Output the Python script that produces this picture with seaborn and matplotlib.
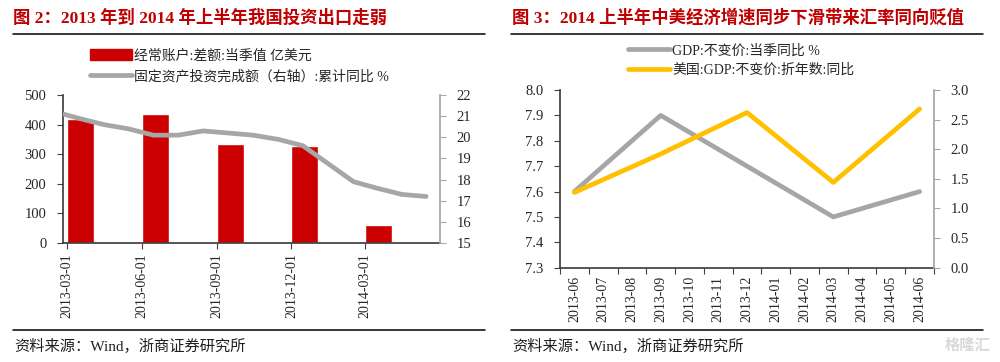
import numpy as np
import pandas as pd
import matplotlib
matplotlib.use("Agg")
import matplotlib.pyplot as plt
import matplotlib.dates as mdates
from matplotlib.patches import Patch
from matplotlib.lines import Line2D
import seaborn as sns

sns.set_theme(style="white")
FONTS = ["Liberation Serif", "Noto Sans CJK SC"]
plt.rcParams["font.family"] = FONTS
plt.rcParams["axes.unicode_minus"] = False

# ── data: chart 2 ─────────────────────────────────────────
bar_dates = ["2013-03-01", "2013-06-01", "2013-09-01", "2013-12-01", "2014-03-01"]
current_account = [418, 435, 333, 327, 61]
fai_dates = ["2013-02-15", "2013-03-15", "2013-04-15", "2013-05-15", "2013-06-15",
             "2013-07-15", "2013-08-15", "2013-09-15", "2013-10-15", "2013-11-15",
             "2013-12-15", "2014-02-15", "2014-03-15", "2014-04-15", "2014-05-15"]
fai_yoy = [21.2, 20.9, 20.6, 20.4, 20.1, 20.1, 20.3, 20.2, 20.1, 19.9,
           19.6, 17.9, 17.6, 17.3, 17.2]

# ── data: chart 3 ─────────────────────────────────────────
months = ["2013-06", "2013-07", "2013-08", "2013-09", "2013-10", "2013-11", "2013-12",
          "2014-01", "2014-02", "2014-03", "2014-04", "2014-05", "2014-06"]
cn_gdp = [7.6, np.nan, np.nan, 7.9, np.nan, np.nan, 7.7,
          np.nan, np.nan, 7.5, np.nan, np.nan, 7.6]
us_gdp = [1.27, np.nan, np.nan, 1.92, np.nan, np.nan, 2.62,
          np.nan, np.nan, 1.44, np.nan, np.nan, 2.68]

RED = "#CC0000"
GRAY = "#A6A6A6"
YELLOW = "#FFC000"
TITLE_RED = "#C00000"

W, H = 1000, 362
fig = plt.figure(figsize=(10, 3.62), dpi=100)


def px_axes(x0, y0, x1, y1):
    return fig.add_axes([x0 / W, 1 - y1 / H, (x1 - x0) / W, (y1 - y0) / H])


def style_axes(ax, ax2):
    for a in (ax, ax2):
        a.set_facecolor("none")
        a.spines["top"].set_visible(False)
    ax.spines["right"].set_visible(False)
    ax.spines["left"].set_color("#404040")
    ax.spines["bottom"].set_color("#404040")
    ax2.spines["left"].set_visible(False)
    ax2.spines["bottom"].set_visible(False)
    ax2.spines["right"].set_color(GRAY)
    ax.tick_params(axis="y", direction="out", length=4, width=0.8, color="#404040",
                   labelsize=10.5, pad=8, left=True)
    ax2.tick_params(axis="y", direction="out", length=4, width=0.8, color=GRAY,
                    labelsize=10.5, pad=8, right=True)


# ── chart 2 ───────────────────────────────────────────────
ax = px_axes(63, 95, 440, 243)
ax2 = ax.twinx()
bd = pd.to_datetime(bar_dates)
ax.bar(bd, current_account, width=33, align="edge", color=RED, zorder=2)
df_fai = pd.DataFrame({"date": pd.to_datetime(fai_dates), "yoy": fai_yoy})
sns.lineplot(data=df_fai, x="date", y="yoy", ax=ax2, color=GRAY, lw=3.4)
ax.set_xlim(pd.Timestamp("2013-02-24"), pd.Timestamp("2014-06-01"))
ax.set_ylim(0, 500)
ax.set_yticks(range(0, 501, 100))
ax2.set_ylim(15, 22)
ax2.set_yticks(range(15, 23))
ax.set_xticks(bd)
ax.xaxis.set_major_formatter(mdates.DateFormatter("%Y-%m-%d"))
ax.tick_params(axis="x", direction="out", length=4, width=0.8, color="#404040",
               labelsize=10, rotation=90, bottom=True)
ax.set_xlabel("")
ax.set_ylabel("")
ax2.set_xlabel("")
ax2.set_ylabel("")
style_axes(ax, ax2)

fig.legend(handles=[Patch(color=RED, label="经常账户:差额:当季值 亿美元"),
                    Line2D([], [], color=GRAY, lw=3.4, label="固定资产投资完成额（右轴）:累计同比 %")],
           loc="upper left", bbox_to_anchor=(90 / W, 1 - 49 / H), frameon=False,
           fontsize=10, handlelength=3.0, handleheight=0.8, handletextpad=0.2,
           labelspacing=0.5, borderpad=0, borderaxespad=0)

# ── chart 3 ───────────────────────────────────────────────
bx = px_axes(560, 90, 934, 267.7)
bx2 = bx.twinx()
x_idx = np.arange(len(months))
df_gdp = pd.DataFrame({"i": x_idx, "cn": cn_gdp, "us": us_gdp})
cn = df_gdp.dropna(subset=["cn"])
us = df_gdp.dropna(subset=["us"])
sns.lineplot(x=cn["i"], y=cn["cn"], ax=bx, color=GRAY, lw=3.4)
sns.lineplot(x=us["i"], y=us["us"], ax=bx2, color=YELLOW, lw=3.4)
bx.set_xlim(-0.5, len(months) - 0.5)
bx.set_ylim(7.3, 8.0)
bx.set_yticks(np.arange(7.3, 8.01, 0.1))
bx.yaxis.set_major_formatter(matplotlib.ticker.FormatStrFormatter("%.1f"))
bx2.set_ylim(0, 3.0)
bx2.set_yticks(np.arange(0, 3.01, 0.5))
bx2.yaxis.set_major_formatter(matplotlib.ticker.FormatStrFormatter("%.1f"))
bx.set_xticks(x_idx)
bx.set_xticklabels(months, rotation=90)
bx.set_xticks(np.arange(-0.5, len(months), 1.0), minor=True)
bx.tick_params(axis="x", which="major", length=0, labelsize=10, pad=6, bottom=True)
bx.tick_params(axis="x", which="minor", direction="out", length=4, width=0.8,
               color="#404040", bottom=True)
for a in (bx, bx2):
    a.set_xlabel("")
    a.set_ylabel("")
style_axes(bx, bx2)

fig.legend(handles=[Line2D([], [], color=GRAY, lw=3.4, label="GDP:不变价:当季同比 %"),
                    Line2D([], [], color=YELLOW, lw=3.4, label="美国:GDP:不变价:折年数:同比")],
           loc="upper left", bbox_to_anchor=(628 / W, 1 - 44 / H), frameon=False,
           fontsize=10, handlelength=3.0, handletextpad=0.2,
           labelspacing=0.45, borderpad=0, borderaxespad=0)

# ── titles, rules and sources ─────────────────────────────
fig.text(13 / W, 1 - 18 / H, "图 2：2013 年到 2014 年上半年我国投资出口走弱",
         color=TITLE_RED, fontsize=12.5, fontweight="bold", va="center", ha="left")
fig.text(512 / W, 1 - 18 / H, "图 3：2014 上半年中美经济增速同步下滑带来汇率同向贬值",
         color=TITLE_RED, fontsize=12.5, fontweight="bold", va="center", ha="left")
for x0, x1 in ((13, 485), (511, 983)):
    for yy in (34, 330):
        fig.add_artist(Line2D([x0 / W, x1 / W], [1 - yy / H, 1 - yy / H],
                              color="black", lw=1.1, transform=fig.transFigure))
fig.text(14 / W, 1 - 346 / H, "资料来源：Wind，浙商证券研究所", fontsize=11,
         va="center", ha="left", color="#202020")
fig.text(512 / W, 1 - 346 / H, "资料来源：Wind，浙商证券研究所", fontsize=11,
         va="center", ha="left", color="#202020")
fig.text(990 / W, 1 - 346 / H, "格隆汇", fontsize=11, va="center", ha="right",
         color="#D8D8D8", fontweight="bold")

fig.savefig("out.png", dpi=100)
